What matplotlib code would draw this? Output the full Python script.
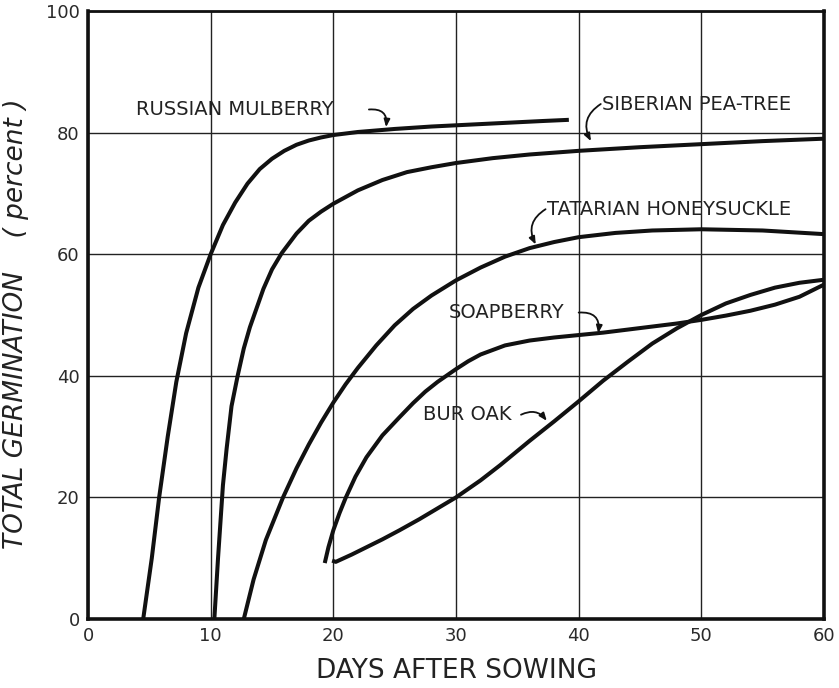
import matplotlib
matplotlib.use("Agg")
import matplotlib.pyplot as plt

# ---- data ----
mulberry_x = [4.5, 5.2, 5.8, 6.5, 7.2, 8.0, 9.0, 10.0, 11.0, 12.0, 13.0, 14.0, 15.0, 16.0, 17.0, 18.0, 19.0, 20.0, 22.0, 25.0, 28.0, 31.0, 34.0, 37.0, 39.2]
mulberry_y = [0.0, 10.0, 20.0, 30.0, 39.0, 47.0, 54.5, 60.0, 64.8, 68.5, 71.6, 74.0, 75.7, 77.0, 78.0, 78.7, 79.2, 79.6, 80.1, 80.6, 81.0, 81.3, 81.6, 81.9, 82.1]

peatree_x = [10.3, 10.6, 11.0, 11.3, 11.7, 12.2, 12.7, 13.2, 14.3, 15.0, 15.8, 17.0, 18.0, 19.0, 20.0, 22.0, 24.0, 26.0, 28.0, 30.0, 33.0, 36.0, 40.0, 45.0, 50.0, 55.0, 60.0]
peatree_y = [0.0, 10.0, 22.0, 28.0, 35.0, 40.0, 44.5, 48.0, 54.3, 57.5, 60.2, 63.4, 65.5, 67.0, 68.3, 70.5, 72.2, 73.5, 74.3, 75.0, 75.8, 76.4, 77.0, 77.6, 78.1, 78.6, 79.0]

honeysuckle_x = [12.7, 13.5, 14.5, 15.9, 17.0, 18.0, 19.0, 20.0, 21.0, 22.0, 23.5, 25.0, 26.5, 28.0, 30.0, 32.0, 34.0, 36.0, 38.0, 40.0, 43.0, 46.0, 50.0, 55.0, 60.0]
honeysuckle_y = [0.0, 6.5, 13.0, 20.0, 24.8, 28.7, 32.3, 35.6, 38.6, 41.3, 45.0, 48.3, 51.0, 53.2, 55.7, 57.8, 59.6, 61.0, 62.0, 62.8, 63.5, 63.9, 64.1, 63.9, 63.3]

soapberry_x = [19.3, 19.6, 20.0, 20.5, 21.0, 21.8, 22.7, 24.0, 25.4, 26.5, 27.5, 28.5, 30.0, 31.0, 32.0, 34.0, 36.0, 38.0, 40.0, 42.0, 44.0, 46.0, 48.0, 50.0, 52.0, 54.0, 56.0, 58.0, 60.0]
soapberry_y = [9.2, 11.8, 14.6, 17.4, 19.9, 23.4, 26.6, 30.2, 33.2, 35.5, 37.4, 39.0, 41.1, 42.4, 43.5, 45.0, 45.8, 46.3, 46.7, 47.1, 47.6, 48.1, 48.6, 49.2, 49.9, 50.7, 51.7, 53.0, 55.0]

buroak_x = [19.9, 20.2, 21.5, 22.7, 24.0, 25.4, 27.0, 28.5, 30.0, 32.0, 33.6, 36.0, 38.0, 40.0, 42.0, 44.0, 46.0, 48.0, 50.0, 52.0, 54.0, 56.0, 58.0, 60.0]
buroak_y = [9.6, 9.4, 10.6, 11.8, 13.1, 14.6, 16.4, 18.2, 20.0, 22.8, 25.3, 29.3, 32.5, 35.8, 39.2, 42.3, 45.3, 47.8, 50.0, 51.9, 53.3, 54.5, 55.3, 55.8]

x_ticks = [0, 10, 20, 30, 40, 50, 60]
y_ticks = [0, 20, 40, 60, 80, 100]

labels = ["RUSSIAN MULBERRY", "SIBERIAN PEA-TREE", "TATARIAN HONEYSUCKLE", "SOAPBERRY", "BUR OAK"]

# ---- figure ----
fig = plt.figure(figsize=(8.39, 6.88), dpi=100)
fig.patch.set_facecolor("white")
ax = fig.add_axes([88 / 839, 1 - 619 / 688, (824 - 88) / 839, (619 - 11) / 688])

ax.set_xlim(0, 60)
ax.set_ylim(0, 100)
ax.set_xticks(x_ticks)
ax.set_yticks(y_ticks)
ax.grid(True, color="#222222", linewidth=1.0)
ax.tick_params(length=0, labelsize=13, colors="#2a2a2a", pad=6)
for s in ax.spines.values():
    s.set_linewidth(2.6)
    s.set_color("#111111")
ax.spines["top"].set_linewidth(2.0)

lw = 2.9
col = "#111111"
for xs, ys in [(mulberry_x, mulberry_y), (peatree_x, peatree_y), (honeysuckle_x, honeysuckle_y),
               (soapberry_x, soapberry_y), (buroak_x, buroak_y)]:
    ax.plot(xs, ys, color=col, lw=lw, solid_capstyle="butt", solid_joinstyle="round")

tfs = 14
tcol = "#222222"
aprops = dict(arrowstyle="-|>,head_length=0.45,head_width=0.18", color=col, lw=1.3, shrinkA=0, shrinkB=0)

ax.text(3.9, 83.8, labels[0], fontsize=tfs, color=tcol, va="center", ha="left")
ax.annotate("", xy=(24.3, 80.9), xytext=(22.9, 83.8),
            arrowprops=dict(aprops, connectionstyle="arc3,rad=-0.6"))

ax.text(41.9, 84.6, labels[1], fontsize=tfs, color=tcol, va="center", ha="left")
ax.annotate("", xy=(41.0, 78.6), xytext=(41.8, 84.7),
            arrowprops=dict(aprops, connectionstyle="arc3,rad=0.45"))

ax.text(37.4, 67.4, labels[2], fontsize=tfs, color=tcol, va="center", ha="left")
ax.annotate("", xy=(36.5, 61.6), xytext=(37.3, 67.4),
            arrowprops=dict(aprops, connectionstyle="arc3,rad=0.45"))

ax.text(29.4, 50.4, labels[3], fontsize=tfs, color=tcol, va="center", ha="left")
ax.annotate("", xy=(41.6, 47.0), xytext=(40.0, 50.4),
            arrowprops=dict(aprops, connectionstyle="arc3,rad=-0.6"))

ax.text(27.3, 33.6, labels[4], fontsize=tfs, color=tcol, va="center", ha="left")
ax.annotate("", xy=(37.4, 32.6), xytext=(35.3, 33.6),
            arrowprops=dict(aprops, connectionstyle="arc3,rad=-0.4"))

ax.set_xlabel("DAYS AFTER SOWING", fontsize=19, color=tcol, labelpad=9)
ax.set_ylabel("TOTAL GERMINATION    ( percent )", fontsize=19, color=tcol, style="italic")
ax.yaxis.set_label_coords(-0.08, 0.485)

fig.savefig("out.png", dpi=100, facecolor="white")
